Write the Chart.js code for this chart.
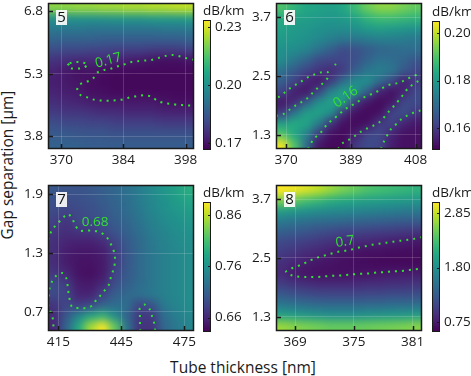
<!DOCTYPE html>
<html>
<head>
<meta charset="utf-8">
<script src="https://cdn.jsdelivr.net/npm/chart.js@4.4.0/dist/chart.umd.min.js"></script>
<style>
  body { margin: 0; width: 471px; height: 376px; overflow: hidden; background: #fff; position: relative; font-family: "Open Sans", sans-serif; }
  canvas { position: absolute; }
  .ttl { position: absolute; color: #1a1a1a; font-size: 15.5px; line-height: 16px; white-space: nowrap; }
</style>
</head>
<body>
<div class="ttl" id="xtitle">Tube thickness [nm]</div>
<div class="ttl" id="ytitle">Gap separation [μm]</div>
<script>
// valors llegits de la figura (dB/km)

// panell 5
const x5 = [368.4, 371.1, 373.9, 376.6, 379.3, 382.1, 384.8, 387.6, 390.3, 393.1, 395.8, 398.5];
const y5 = [6.875, 6.625, 6.375, 6.125, 5.875, 5.625, 5.375, 5.125, 4.875, 4.625, 4.375, 4.125, 3.875, 3.625];
const z5 = [
  [0.222, 0.222, 0.223, 0.223, 0.224, 0.224, 0.225, 0.225, 0.226, 0.226, 0.227, 0.227],
  [0.200, 0.200, 0.200, 0.200, 0.200, 0.201, 0.201, 0.201, 0.202, 0.202, 0.202, 0.203],
  [0.193, 0.193, 0.193, 0.192, 0.192, 0.192, 0.192, 0.192, 0.192, 0.193, 0.193, 0.193],
  [0.188, 0.187, 0.187, 0.187, 0.186, 0.186, 0.186, 0.186, 0.186, 0.186, 0.186, 0.187],
  [0.182, 0.181, 0.181, 0.180, 0.180, 0.179, 0.179, 0.179, 0.178, 0.178, 0.178, 0.179],
  [0.176, 0.175, 0.174, 0.174, 0.174, 0.173, 0.172, 0.171, 0.170, 0.169, 0.169, 0.170],
  [0.173, 0.171, 0.169, 0.170, 0.169, 0.168, 0.168, 0.168, 0.168, 0.168, 0.168, 0.168],
  [0.172, 0.171, 0.170, 0.169, 0.168, 0.168, 0.168, 0.168, 0.168, 0.168, 0.168, 0.168],
  [0.173, 0.172, 0.171, 0.169, 0.169, 0.168, 0.168, 0.168, 0.168, 0.168, 0.168, 0.168],
  [0.175, 0.174, 0.173, 0.172, 0.171, 0.171, 0.171, 0.171, 0.171, 0.170, 0.169, 0.169],
  [0.178, 0.177, 0.177, 0.176, 0.175, 0.175, 0.174, 0.174, 0.174, 0.173, 0.173, 0.173],
  [0.182, 0.181, 0.181, 0.180, 0.180, 0.179, 0.179, 0.179, 0.179, 0.178, 0.178, 0.178],
  [0.185, 0.185, 0.184, 0.184, 0.184, 0.183, 0.183, 0.183, 0.183, 0.183, 0.183, 0.183],
  [0.187, 0.187, 0.187, 0.186, 0.186, 0.186, 0.186, 0.186, 0.186, 0.186, 0.186, 0.186]
];
const xt5 = [370, 384, 398];
const yt5 = [3.8, 5.3, 6.8];
const cbt5 = [0.17, 0.20, 0.23];
const c5a = [[371.87, 5.557], [373.22, 5.588], [374.86, 5.571], [375.99, 5.533], [375.02, 5.451], [373.51, 5.427], [372.03, 5.437], [371.42, 5.497], [371.87, 5.557]];
const c5b = [[399.9, 5.636], [398.2, 5.677], [396.63, 5.725], [395.05, 5.756], [393.48, 5.732], [391.9, 5.684], [390.33, 5.636], [388.75, 5.619], [387.17, 5.605], [385.6, 5.581], [384.02, 5.523], [382.5, 5.475], [381.03, 5.42], [379.45, 5.389], [378.1, 5.331], [377.05, 5.18], [375.63, 5.108], [374.05, 5.043], [373.6, 4.916], [374.5, 4.779], [376.08, 4.731], [377.56, 4.676], [379.23, 4.659], [380.8, 4.659], [382.38, 4.669], [384.02, 4.693], [385.6, 4.741], [387.17, 4.772], [388.75, 4.789], [390.33, 4.755], [391.61, 4.659], [393.1, 4.604], [394.83, 4.58], [396.4, 4.556], [397.98, 4.549], [399.9, 4.532]];

// panell 6
const x6 = [368.8, 372.4, 375.9, 379.5, 383.1, 386.7, 390.2, 393.8, 397.4, 401.0, 404.5, 408.1];
const y6 = [3.893, 3.679, 3.464, 3.25, 3.036, 2.821, 2.607, 2.393, 2.179, 1.964, 1.75, 1.536, 1.321, 1.107];
const z6 = [
  [0.190, 0.186, 0.183, 0.182, 0.181, 0.183, 0.188, 0.193, 0.196, 0.196, 0.194, 0.192],
  [0.184, 0.182, 0.181, 0.180, 0.179, 0.180, 0.182, 0.186, 0.188, 0.188, 0.187, 0.186],
  [0.182, 0.180, 0.179, 0.178, 0.177, 0.177, 0.178, 0.180, 0.181, 0.180, 0.179, 0.178],
  [0.180, 0.179, 0.178, 0.176, 0.174, 0.172, 0.172, 0.173, 0.174, 0.174, 0.173, 0.172],
  [0.178, 0.177, 0.175, 0.171, 0.167, 0.163, 0.164, 0.166, 0.168, 0.169, 0.170, 0.170],
  [0.177, 0.172, 0.168, 0.163, 0.162, 0.162, 0.164, 0.168, 0.171, 0.170, 0.168, 0.165],
  [0.171, 0.166, 0.162, 0.159, 0.157, 0.160, 0.167, 0.172, 0.174, 0.172, 0.166, 0.162],
  [0.167, 0.162, 0.156, 0.154, 0.160, 0.170, 0.177, 0.178, 0.170, 0.163, 0.155, 0.160],
  [0.162, 0.155, 0.154, 0.162, 0.175, 0.181, 0.179, 0.167, 0.156, 0.153, 0.156, 0.163],
  [0.154, 0.157, 0.167, 0.178, 0.182, 0.181, 0.160, 0.154, 0.152, 0.154, 0.163, 0.163],
  [0.160, 0.172, 0.181, 0.182, 0.178, 0.159, 0.153, 0.152, 0.153, 0.162, 0.164, 0.159],
  [0.181, 0.184, 0.183, 0.174, 0.159, 0.153, 0.152, 0.153, 0.160, 0.162, 0.156, 0.154],
  [0.190, 0.183, 0.175, 0.160, 0.153, 0.152, 0.155, 0.162, 0.163, 0.156, 0.153, 0.153],
  [0.204, 0.190, 0.170, 0.154, 0.152, 0.152, 0.160, 0.163, 0.162, 0.155, 0.153, 0.153]
];
const xt6 = [370, 389, 408];
const yt6 = [1.3, 2.5, 3.7];
const cbt6 = [0.16, 0.18, 0.20];
const c6a = [[367.06, 1.688], [369.12, 1.725], [371.0, 1.813], [372.64, 1.894], [374.52, 1.97], [376.29, 2.051], [377.75, 2.153], [379.1, 2.247], [380.69, 2.349], [382.16, 2.459], [382.34, 2.573], [380.19, 2.573], [378.34, 2.533], [376.58, 2.48], [374.82, 2.404], [372.94, 2.329], [371.09, 2.247], [369.62, 2.166], [367.86, 2.072], [367.06, 2.04]];
const c6b = [[384.3, 2.72], [384.6, 2.745]];
const c6c = [[376.4, 1.015], [376.96, 1.085], [378.14, 1.222], [379.81, 1.324], [381.07, 1.432], [382.34, 1.542], [384.01, 1.629], [385.57, 1.725], [387.15, 1.819], [389.0, 1.894], [390.77, 1.962], [392.44, 2.051], [394.29, 2.113], [396.26, 2.166], [398.02, 2.247], [399.96, 2.317], [401.93, 2.343], [403.89, 2.384], [405.83, 2.451], [407.71, 2.512], [409.85, 2.53]];
const c6d = [[385.2, 1.015], [386.56, 1.134], [388.33, 1.201], [390.09, 1.277], [391.85, 1.364], [393.7, 1.432], [395.67, 1.493], [397.52, 1.568], [400.07, 1.772], [401.93, 1.915], [403.6, 2.051], [405.83, 2.255], [408.59, 2.39], [409.85, 2.445]];
const c6e = [[397.8, 1.015], [398.69, 1.167], [399.58, 1.283], [400.75, 1.419], [402.51, 1.534], [403.6, 1.609], [405.36, 1.691], [407.3, 1.752], [409.36, 1.799], [409.85, 1.81]];

// panell 7
const x7 = [412.9, 418.7, 424.5, 430.3, 436.1, 441.9, 447.7, 453.5, 459.3, 465.1, 470.9, 476.7];
const y7 = [1.946, 1.839, 1.732, 1.625, 1.518, 1.411, 1.304, 1.196, 1.089, 0.982, 0.875, 0.768, 0.661, 0.554];
const z7 = [
  [0.700, 0.698, 0.698, 0.700, 0.708, 0.715, 0.726, 0.738, 0.751, 0.764, 0.776, 0.789],
  [0.695, 0.690, 0.693, 0.698, 0.705, 0.713, 0.723, 0.736, 0.748, 0.759, 0.771, 0.779],
  [0.690, 0.683, 0.688, 0.693, 0.700, 0.710, 0.721, 0.733, 0.746, 0.756, 0.764, 0.771],
  [0.680, 0.670, 0.685, 0.688, 0.695, 0.705, 0.715, 0.728, 0.741, 0.751, 0.759, 0.764],
  [0.672, 0.665, 0.670, 0.672, 0.683, 0.698, 0.710, 0.723, 0.736, 0.746, 0.753, 0.759],
  [0.667, 0.657, 0.655, 0.655, 0.662, 0.683, 0.703, 0.718, 0.733, 0.743, 0.751, 0.756],
  [0.665, 0.652, 0.647, 0.647, 0.652, 0.675, 0.700, 0.718, 0.731, 0.741, 0.748, 0.753],
  [0.665, 0.652, 0.645, 0.645, 0.650, 0.675, 0.700, 0.718, 0.731, 0.741, 0.748, 0.753],
  [0.672, 0.662, 0.645, 0.642, 0.650, 0.683, 0.703, 0.718, 0.731, 0.741, 0.748, 0.753],
  [0.690, 0.678, 0.652, 0.650, 0.662, 0.693, 0.708, 0.721, 0.731, 0.741, 0.748, 0.753],
  [0.688, 0.683, 0.657, 0.657, 0.683, 0.708, 0.718, 0.726, 0.733, 0.741, 0.748, 0.753],
  [0.670, 0.685, 0.678, 0.688, 0.713, 0.723, 0.723, 0.683, 0.695, 0.733, 0.746, 0.753],
  [0.662, 0.700, 0.746, 0.779, 0.795, 0.753, 0.713, 0.675, 0.675, 0.721, 0.738, 0.748],
  [0.660, 0.712, 0.784, 0.850, 0.885, 0.822, 0.728, 0.670, 0.668, 0.715, 0.733, 0.746]
];
const xt7 = [415, 445, 475];
const yt7 = [0.7, 1.3, 1.9];
const cbt7 = [0.66, 0.76, 0.86];
const c7a = [[410.05, 1.436], [410.86, 1.49], [412.43, 1.551], [414.81, 1.607], [417.19, 1.661], [419.57, 1.702], [421.66, 1.647], [423.23, 1.579], [424.81, 1.531], [428.0, 1.531], [431.18, 1.531], [434.33, 1.518], [437.51, 1.477], [439.42, 1.415], [440.85, 1.354], [441.8, 1.286], [441.94, 1.211], [441.32, 1.136], [440.04, 1.061], [439.42, 0.993], [437.66, 0.938], [435.47, 0.877], [433.23, 0.83], [431.33, 0.769], [428.33, 0.741], [425.0, 0.741], [421.66, 0.748], [420.52, 0.812], [420.05, 0.871], [419.57, 0.932], [418.95, 1.034], [417.19, 1.096], [414.19, 1.075], [412.14, 1.017], [410.86, 0.948], [410.53, 0.874], [410.05, 0.843]];
const c7b = [[410.05, 0.779], [410.86, 0.724], [412.14, 0.656], [412.52, 0.588], [412.76, 0.506]];
const c7c = [[454.03, 0.506], [453.84, 0.598], [453.84, 0.672], [453.84, 0.741], [456.22, 0.775], [458.6, 0.724], [459.74, 0.649], [460.7, 0.58], [461.08, 0.506]];

// panell 8
const x8 = [367.68, 368.92, 370.16, 371.40, 372.64, 373.88, 375.13, 376.37, 377.61, 378.85, 380.09, 381.33];
const y8 = [3.879, 3.667, 3.455, 3.242, 3.030, 2.818, 2.606, 2.394, 2.182, 1.970, 1.758, 1.545, 1.333, 1.121];
const z8 = [
  [3.07, 3.02, 2.94, 2.82, 2.69, 2.57, 2.47, 2.36, 2.31, 2.26, 2.21, 2.16],
  [2.57, 2.44, 2.31, 2.21, 2.11, 2.06, 2.01, 1.96, 1.94, 1.91, 1.89, 1.86],
  [1.94, 1.86, 1.81, 1.76, 1.73, 1.71, 1.68, 1.66, 1.63, 1.61, 1.58, 1.56],
  [1.56, 1.51, 1.46, 1.43, 1.41, 1.38, 1.36, 1.33, 1.31, 1.28, 1.26, 1.26],
  [1.31, 1.26, 1.21, 1.15, 1.10, 1.05, 1.05, 1.03, 1.00, 0.98, 0.95, 0.93],
  [1.10, 1.05, 1.00, 0.95, 0.90, 0.85, 0.83, 0.80, 0.78, 0.75, 0.73, 0.70],
  [0.98, 0.93, 0.85, 0.80, 0.75, 0.70, 0.68, 0.65, 0.65, 0.63, 0.63, 0.63],
  [0.88, 0.80, 0.75, 0.70, 0.68, 0.65, 0.63, 0.63, 0.60, 0.60, 0.60, 0.60],
  [0.85, 0.73, 0.68, 0.66, 0.66, 0.66, 0.68, 0.69, 0.71, 0.73, 0.74, 0.75],
  [1.00, 0.93, 0.88, 0.85, 0.85, 0.85, 0.85, 0.88, 0.88, 0.90, 0.90, 0.93],
  [1.26, 1.18, 1.13, 1.10, 1.08, 1.08, 1.08, 1.10, 1.10, 1.13, 1.13, 1.15],
  [1.56, 1.51, 1.46, 1.43, 1.41, 1.41, 1.41, 1.43, 1.43, 1.46, 1.46, 1.48],
  [2.01, 1.94, 1.89, 1.84, 1.81, 1.81, 1.81, 1.84, 1.86, 1.89, 1.91, 1.94],
  [2.69, 2.62, 2.57, 2.52, 2.47, 2.47, 2.47, 2.49, 2.52, 2.54, 2.57, 2.62]
];
const xt8 = [369, 375, 381];
const yt8 = [1.3, 2.5, 3.7];
const cbt8 = [0.75, 1.80, 2.85];
const c8a = [[381.95, 2.928], [381.23, 2.894], [380.52, 2.873], [379.77, 2.853], [379.02, 2.832], [378.3, 2.812], [377.58, 2.792], [376.87, 2.771], [376.15, 2.739], [375.44, 2.71], [374.72, 2.669], [373.98, 2.643], [373.29, 2.622], [372.55, 2.582], [371.86, 2.541], [371.15, 2.5], [370.47, 2.445], [369.82, 2.378], [369.1, 2.323], [368.43, 2.27], [368.08, 2.215], [368.76, 2.139], [369.48, 2.119], [370.2, 2.113], [370.94, 2.113], [371.66, 2.119], [372.41, 2.133], [373.13, 2.139], [373.87, 2.147], [374.59, 2.16], [375.31, 2.174], [376.02, 2.18], [376.74, 2.188], [377.48, 2.208], [378.24, 2.215], [378.98, 2.229], [379.73, 2.235], [380.45, 2.249], [381.16, 2.27], [381.88, 2.282]];

Chart.defaults.font.family = "Open Sans";
Chart.defaults.color = "#1a1a1a";

const GREEN = "#33e033";
const VIR = [[68,1,84],[72,36,117],[65,68,135],[53,95,141],[42,120,142],[33,145,140],[34,168,132],[68,191,112],[122,209,81],[189,223,38],[253,231,37]];

function viridis(t) {
  t = Math.max(0, Math.min(1, t)) * 10;
  const i = Math.min(9, Math.floor(t)), f = t - i;
  const a = VIR[i], b = VIR[i + 1];
  return "rgb(" + [0, 1, 2].map(k => Math.round(a[k] + (b[k] - a[k]) * f)).join(",") + ")";
}

function edges(c) {
  const e = [c[0] - (c[1] - c[0]) / 2];
  for (let i = 1; i < c.length; i++) e.push((c[i - 1] + c[i]) / 2);
  e.push(c[c.length - 1] + (c[c.length - 1] - c[c.length - 2]) / 2);
  return e;
}

const panels = [
  { num: "5", left: 48, top: 3, xr: [367, 399.9], yr: [3.5, 7.0], vr: [0.1664, 0.2336], xs: x5, ys: y5, z: z5, xt: xt5, yt: yt5, cbt: cbt5,
    lines: [c5a, c5b], lab: ["0.17", 380.6, 5.62, -15], cb: { left: 203, top: 20, h: 130 } },
  { num: "6", left: 276, top: 3, xr: [367.05, 409.85], yr: [1.015, 3.985], vr: [0.1506, 0.2052], xs: x6, ys: y6, z: z6, xt: xt6, yt: yt6, cbt: cbt6,
    lines: [c6a, c6b, c6c, c6d, c6e], lab: ["0.16", 387.5, 2.07, -35], cb: { left: 432, top: 21, h: 129 } },
  { num: "7", left: 48, top: 185, xr: [410.05, 479.6], yr: [0.506, 1.996], vr: [0.632, 0.885], xs: x7, ys: y7, z: z7, xt: xt7, yt: yt7, cbt: cbt7,
    lines: [c7a, c7b, c7c], lab: ["0.68", 432.5, 1.615, 0], cb: { left: 203, top: 202, h: 130 } },
  { num: "8", left: 276, top: 185, xr: [367.06, 381.95], yr: [1.015, 3.985], vr: [0.55, 3.07], xs: x8, ys: y8, z: z8, xt: xt8, yt: yt8, cbt: cbt8,
    lines: [c8a], lab: ["0.7", 374.1, 2.83, -8], cb: { left: 432, top: 202, h: 130 } }
];

function newCanvas(left, top, w, h) {
  const cv = document.createElement("canvas");
  cv.width = w; cv.height = h;
  cv.style.left = left + "px"; cv.style.top = top + "px";
  cv.style.width = w + "px"; cv.style.height = h + "px";
  document.body.appendChild(cv);
  return cv;
}

function panelPlugin(p) {
  return {
    id: "panel" + p.num,
    beforeDatasetsDraw(chart) {
      const { ctx, chartArea: a, scales: { x, y } } = chart;
      const ex = edges(p.xs), ey = edges(p.ys);
      const nx = p.xs.length, ny = p.ys.length;
      // cel·les en un llenç auxiliar, després suavitzades
      const off = document.createElement("canvas");
      off.width = chart.width; off.height = chart.height;
      const o = off.getContext("2d");
      p.z.forEach((row, j) => row.forEach((v, i) => {
        let x0 = x.getPixelForValue(ex[i]), x1 = x.getPixelForValue(ex[i + 1]);
        let y0 = y.getPixelForValue(ey[j]), y1 = y.getPixelForValue(ey[j + 1]);
        if (i === 0) x0 -= 14;
        if (i === nx - 1) x1 += 14;
        if (j === 0) y0 -= 14;
        if (j === ny - 1) y1 += 14;
        o.fillStyle = viridis((v - p.vr[0]) / (p.vr[1] - p.vr[0]));
        o.fillRect(x0, y0, x1 - x0 + 0.7, y1 - y0 + 0.7);
      }));
      ctx.save();
      ctx.beginPath();
      ctx.rect(a.left, a.top, a.width, a.height);
      ctx.clip();
      ctx.filter = "blur(4px)";
      ctx.drawImage(off, 0, 0);
      ctx.restore();
    },
    afterDraw(chart) {
      const { ctx, chartArea: a, scales: { x, y } } = chart;
      // etiqueta del contorn
      ctx.save();
      ctx.translate(x.getPixelForValue(p.lab[1]), y.getPixelForValue(p.lab[2]));
      ctx.rotate(p.lab[3] * Math.PI / 180);
      ctx.fillStyle = GREEN;
      ctx.font = '13.5px "Open Sans"';
      ctx.textAlign = "center";
      ctx.textBaseline = "middle";
      ctx.fillText(p.lab[0], 0, 0);
      ctx.restore();
      // marc i marques cap a dins
      ctx.save();
      ctx.strokeStyle = "#1a1a1a";
      ctx.lineWidth = 1.5;
      ctx.strokeRect(a.left + 0.5, a.top + 0.5, a.width - 1, a.height - 1);
      ctx.beginPath();
      p.xt.forEach(v => { const px = Math.round(x.getPixelForValue(v)) + 0.5; ctx.moveTo(px, a.bottom); ctx.lineTo(px, a.bottom - 5); });
      p.yt.forEach(v => { const py = Math.round(y.getPixelForValue(v)) + 0.5; ctx.moveTo(a.left, py); ctx.lineTo(a.left + 5, py); });
      ctx.stroke();
      // numero del panell
      ctx.fillStyle = "rgba(255,255,255,0.9)";
      ctx.fillRect(a.left + 8, a.top + 7, 11, 15);
      ctx.fillStyle = "#111";
      ctx.font = '15px "Open Sans"';
      ctx.textAlign = "center";
      ctx.textBaseline = "middle";
      ctx.fillText(p.num, a.left + 13.5, a.top + 15);
      ctx.restore();
    }
  };
}

function barPlugin(p) {
  return {
    id: "bar" + p.num,
    afterDraw(chart) {
      const { ctx, chartArea: a, scales: { y } } = chart;
      ctx.save();
      const g = ctx.createLinearGradient(0, y.getPixelForValue(p.vr[0]), 0, y.getPixelForValue(p.vr[1]));
      VIR.forEach((c, i) => g.addColorStop(i / 10, "rgb(" + c.join(",") + ")"));
      ctx.fillStyle = g;
      ctx.fillRect(a.left, a.top, a.width, a.height);
      ctx.strokeStyle = "#1a1a1a";
      ctx.lineWidth = 1;
      ctx.strokeRect(a.left + 0.5, a.top + 0.5, a.width - 1, a.height - 1);
      ctx.beginPath();
      p.cbt.forEach(v => { const py = Math.round(y.getPixelForValue(v)) + 0.5; ctx.moveTo(a.right - 3, py); ctx.lineTo(a.right, py); });
      ctx.stroke();
      ctx.fillStyle = "#1a1a1a";
      ctx.font = '13.5px "Open Sans"';
      ctx.textBaseline = "alphabetic";
      ctx.fillText("dB/km", a.left, a.top - 5);
      ctx.restore();
    }
  };
}

const tickFont = { family: "Open Sans", size: 13.5 };

panels.forEach(p => {
  // panell principal
  const cv = newCanvas(p.left - 48, p.top - 14, 208, 190);
  new Chart(cv, {
    type: "scatter",
    data: {
      datasets: p.lines.map(l => ({
        data: l.map(q => ({ x: q[0], y: q[1] })),
        showLine: true,
        borderColor: GREEN,
        borderWidth: 2,
        borderDash: [2, 5],
        borderCapStyle: "butt",
        pointRadius: 0,
        tension: 0.3
      }))
    },
    options: {
      responsive: false,
      animation: false,
      events: [],
      devicePixelRatio: 1,
      layout: { padding: { left: 8, top: 14, right: 14, bottom: 8 } },
      plugins: { legend: { display: false }, tooltip: { enabled: false } },
      scales: {
        x: {
          type: "linear", min: p.xr[0], max: p.xr[1],
          afterBuildTicks: s => { s.ticks = p.xt.map(v => ({ value: v })); },
          afterFit: s => { s.height = 22; },
          grid: { color: "rgba(255,255,255,0.16)", drawTicks: false, z: 1 },
          border: { display: false },
          ticks: { padding: 3, autoSkip: false, maxRotation: 0, font: tickFont, color: "#1a1a1a", callback: v => String(v) }
        },
        y: {
          type: "linear", min: p.yr[0], max: p.yr[1],
          afterBuildTicks: s => { s.ticks = p.yt.map(v => ({ value: v })); },
          afterFit: s => { s.width = 40; },
          grid: { color: "rgba(255,255,255,0.16)", drawTicks: false, z: 1 },
          border: { display: false },
          ticks: { padding: 5, autoSkip: false, font: tickFont, color: "#1a1a1a", callback: v => v.toFixed(1) }
        }
      }
    },
    plugins: [panelPlugin(p)]
  });

  // barra de color
  const cb = newCanvas(p.cb.left - 10, p.cb.top - 24, 58, p.cb.h + 40);
  new Chart(cb, {
    type: "scatter",
    data: { datasets: [] },
    options: {
      responsive: false,
      animation: false,
      events: [],
      devicePixelRatio: 1,
      layout: { padding: { left: 10, top: 24, right: 0, bottom: 16 } },
      plugins: { legend: { display: false }, tooltip: { enabled: false } },
      scales: {
        x: { display: false, min: 0, max: 1 },
        y: {
          position: "right", min: p.vr[0], max: p.vr[1],
          afterBuildTicks: s => { s.ticks = p.cbt.map(v => ({ value: v })); },
          afterFit: s => { s.width = 40; },
          grid: { display: false, drawTicks: false },
          border: { display: false },
          ticks: { padding: 4, autoSkip: false, font: tickFont, color: "#1a1a1a", callback: v => v.toFixed(2) }
        }
      }
    },
    plugins: [barPlugin(p)]
  });
});

// titols dels eixos
const xtitle = document.getElementById("xtitle");
xtitle.style.left = "243px";
xtitle.style.top = "359px";
xtitle.style.transform = "translateX(-50%)";
const ytitle = document.getElementById("ytitle");
ytitle.style.left = "6.5px";
ytitle.style.top = "165px";
ytitle.style.transform = "translate(-50%, -50%) rotate(-90deg)";
</script>
</body>
</html>
